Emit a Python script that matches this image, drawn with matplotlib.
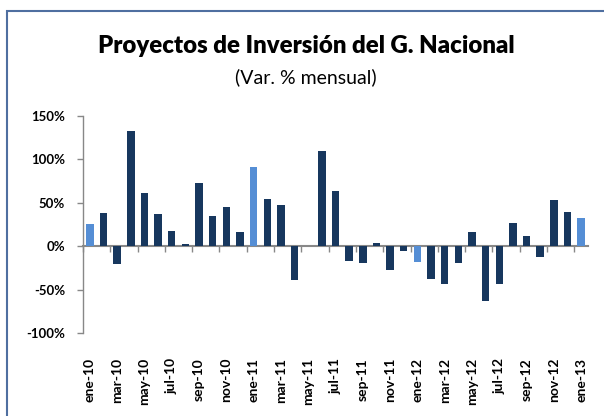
import matplotlib.pyplot as plt
from matplotlib.patches import Rectangle
import numpy as np

plt.rcParams['font.family'] = ['Lato', 'DejaVu Sans']

meses = ["ene", "feb", "mar", "abr", "may", "jun",
         "jul", "ago", "sep", "oct", "nov", "dic"]
etiquetas = [f"{m}-{a}" for a in ("10", "11", "12") for m in meses] + ["ene-13"]

# variacion mensual (%)
valores = [26, 38, -20, 133, 61, 37, 17, 3, 73, 35, 45, 16,
           91, 54, 47, -39, 0.5, 110, 64, -17, -19, 4, -27, -5,
           -18, -38, -43, -19, 16, -63, -43, 27, 12, -12, 53, 39,
           32]

oscuro = "#17375E"
claro = "#558ED5"
gris = "#888888"

x = np.arange(len(valores))
colores = [claro if e.startswith("ene") else oscuro for e in etiquetas]

fig = plt.figure(figsize=(6.04, 4.16), dpi=100)
ax = fig.add_axes([83 / 604, 1 - 333 / 416, 505 / 604, 217 / 416])

ax.bar(x, valores, width=0.55, color=colores, zorder=3)

ax.set_xlim(-0.5, len(valores) - 0.5)
ax.set_ylim(-100, 150)
ax.set_yticks([-100, -50, 0, 50, 100, 150])
ax.set_yticklabels([f"{v}%" for v in [-100, -50, 0, 50, 100, 150]],
                   fontsize=9.5, fontweight="bold")
ax.tick_params(axis="y", direction="out", length=4, width=1, color=gris, pad=9)

# etiquetas abajo
ax.set_xticks(x[::2])
ax.set_xticklabels(etiquetas[::2], rotation=90, fontsize=10, fontweight="bold")
ax.tick_params(axis="x", length=0, pad=18)

for lado in ("top", "right", "bottom"):
    ax.spines[lado].set_visible(False)
ax.spines["left"].set_color(gris)
ax.spines["left"].set_linewidth(1)

# eje en cero con marcas cada dos meses
eje0 = ax.secondary_xaxis(100 / 250)
eje0.set_xticks(np.arange(-0.5, len(valores), 2))
eje0.set_xticklabels([])
eje0.tick_params(direction="out", length=4, width=1, color=gris)
eje0.spines["bottom"].set_color(gris)
eje0.spines["bottom"].set_linewidth(1.5)

fig.text(306 / 604, 1 - 46 / 416, "Proyectos de Inversión del G. Nacional",
         ha="center", va="center", fontsize=17.3, fontweight="heavy")
fig.text(306 / 604, 1 - 77 / 416, "(Var. % mensual)",
         ha="center", va="center", fontsize=14)

# borde exterior
fig.patches.append(Rectangle((7 / 604, -0.1), 1.2, 1 - 11 / 416 + 0.1,
                             transform=fig.transFigure, fill=False,
                             edgecolor="#4F6FA0", linewidth=1.5))

fig.savefig("out.png", dpi=100)
